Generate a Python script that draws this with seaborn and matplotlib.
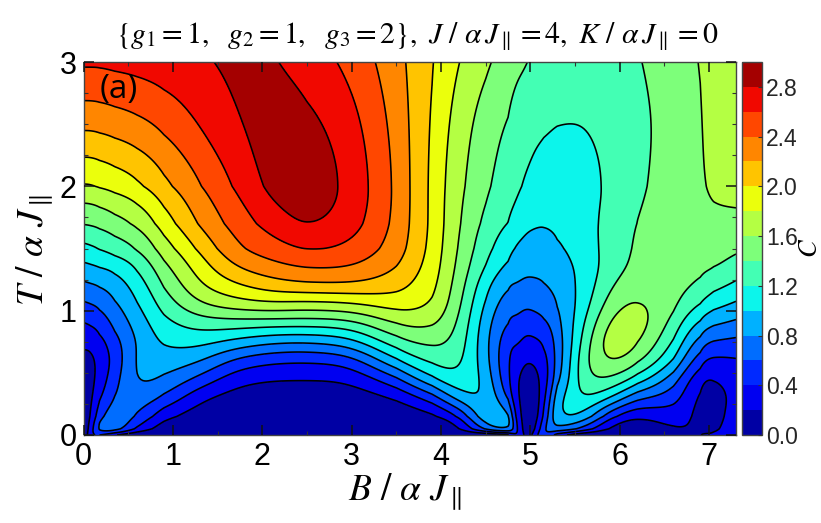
import numpy as np
import matplotlib
matplotlib.use("Agg")
import matplotlib.pyplot as plt
from matplotlib.ticker import MultipleLocator
import seaborn as sns

# magnetic field columns and temperature rows
field_B = [0, .08, .18, .35, .6, .9, 1.3, 1.7, 2.1, 2.5, 3.0, 3.5, 3.9, 4.2, 4.5, 4.75, 4.85,
           4.95, 5.05, 5.15, 5.3, 5.6, 5.9, 6.2, 6.6, 6.9, 7.05, 7.3]
temp_T = [0, .05, .15, .3, .45, .6, .75, .9, 1.05, 1.2, 1.35, 1.5, 1.7, 2.0, 2.5, 3.0]

# specific heat: one line per field column, values follow temp_T
heat_C = [
    [0, .01, .03, .06, .1, .15, .23, .39, .57, .75, .95, 1.14, 1.39, 1.76, 2.27, 2.63],
    [.38, .3, .18, .15, .12, .13, .25, .42, .59, .77, .97, 1.16, 1.4, 1.76, 2.27, 2.63],
    [.45, .75, .55, .36, .27, .25, .32, .47, .63, .8, 1.0, 1.2, 1.43, 1.79, 2.28, 2.63],
    [.22, .85, .78, .62, .52, .43, .5, .65, .76, .88, 1.03, 1.29, 1.5, 1.84, 2.31, 2.65],
    [0, .35, .62, .76, .87, .88, .82, .88, .97, 1.07, 1.19, 1.39, 1.6, 1.93, 2.36, 2.67],
    [0, .06, .21, .61, .8, .93, 1.05, 1.15, 1.28, 1.4, 1.54, 1.69, 1.87, 2.12, 2.45, 2.71],
    [0, .02, .07, .2, .55, .85, 1.08, 1.3, 1.6, 1.8, 1.9, 2.03, 2.25, 2.37, 2.63, 2.76],
    [0, .01, .04, .1, .25, .53, .95, 1.31, 1.72, 1.97, 2.21, 2.39, 2.47, 2.61, 2.8, 2.86],
    [0, 0, .02, .07, .2, .42, .83, 1.29, 1.78, 2.11, 2.34, 2.51, 2.68, 2.9, 2.92, 2.83],
    [0, 0, .02, .07, .2, .4, .8, 1.29, 1.72, 2.17, 2.43, 2.63, 2.86, 2.98, 2.88, 2.72],
    [0, 0, .02, .07, .2, .44, .9, 1.3, 1.77, 2.18, 2.42, 2.57, 2.72, 2.78, 2.7, 2.55],
    [0, 0, .03, .18, .53, 1.03, 1.37, 1.66, 1.92, 2.08, 2.22, 2.32, 2.35, 2.37, 2.33, 2.27],
    [0, .02, .1, .47, 1.03, 1.29, 1.48, 1.67, 1.82, 1.87, 1.91, 1.93, 1.95, 1.93, 1.96, 2.0],
    [0, .1, .3, .97, 1.2, 1.29, 1.35, 1.4, 1.46, 1.51, 1.55, 1.58, 1.61, 1.64, 1.7, 1.8],
    [0, .75, 1.1, 1.08, .98, .88, .84, .86, .93, 1.03, 1.17, 1.25, 1.33, 1.43, 1.48, 1.63],
    [.15, 1.0, .95, .5, .38, .36, .42, .55, .67, .78, .94, 1.06, 1.18, 1.3, 1.37, 1.5],
    [.5, .4, .28, .2, .2, .28, .44, .56, .67, .79, .88, .96, 1.12, 1.24, 1.3, 1.44],
    [.05, .05, .08, .1, .13, .19, .34, .48, .63, .75, .85, .94, 1.03, 1.18, 1.28, 1.41],
    [.25, .14, .08, .1, .14, .21, .36, .52, .65, .76, .85, .93, 1.01, 1.14, 1.24, 1.36],
    [.7, .62, .37, .26, .24, .3, .41, .56, .68, .78, .86, .93, 1.0, 1.12, 1.22, 1.34],
    [.3, .85, 1.1, .98, .68, .6, .62, .69, .76, .86, .93, .96, 1.03, 1.12, 1.19, 1.32],
    [0, .55, 1.02, 1.28, 1.42, 1.42, 1.3, 1.2, 1.1, 1.05, 1.03, 1.08, 1.12, 1.12, 1.19, 1.29],
    [0, .1, .35, 1.05, 1.42, 1.68, 1.8, 1.68, 1.52, 1.41, 1.33, 1.3, 1.28, 1.22, 1.25, 1.31],
    [0, .03, .14, .6, 1.15, 1.5, 1.68, 1.78, 1.68, 1.52, 1.45, 1.44, 1.42, 1.36, 1.34, 1.38],
    [.1, .21, .35, .52, .68, 1.02, 1.19, 1.32, 1.46, 1.49, 1.5, 1.47, 1.5, 1.5, 1.47, 1.5],
    [.22, .18, .1, .1, .18, .41, .66, .92, 1.17, 1.37, 1.43, 1.46, 1.53, 1.58, 1.6, 1.62],
    [.2, .15, .1, .1, .18, .34, .58, .83, 1.07, 1.26, 1.43, 1.5, 1.55, 1.65, 1.65, 1.66],
    [.3, .3, .3, .25, .28, .37, .55, .76, .97, 1.16, 1.31, 1.44, 1.55, 1.67, 1.72, 1.72],
]

contour_levels = [round(0.2 * i, 1) for i in range(16)]
colorbar_ticks = [0.0, 0.4, 0.8, 1.2, 1.6, 2.0, 2.4, 2.8]
title_text = (r"$\{g_1=1,\ \ g_2=1,\ \ g_3=2\},\ J\ /\ \alpha\,J_{\parallel}=4,"
              r"\ K\ /\ \alpha\,J_{\parallel}=0$")

sns.set_theme(style="ticks")
plt.rcParams["font.family"] = ["Liberation Sans", "DejaVu Sans"]
plt.rcParams["mathtext.fontset"] = "stix"
plt.rcParams["axes.axisbelow"] = False

W, H = 821, 523
fig = plt.figure(figsize=(W / 100, H / 100), dpi=100)


def box(x0, x1, y0, y1):
    return [x0 / W, 1 - y1 / H, (x1 - x0) / W, (y1 - y0) / H]


ax = fig.add_axes(box(83.5, 736, 62, 435))
cax = fig.add_axes(box(742, 762, 62, 435))

b_arr = np.asarray(field_B, float)
t_arr = np.asarray(temp_T, float)
c_arr = np.asarray(heat_C, float).T   # rows follow temp_T

# draw the read-off grid smoothly: subdivide each cell, then soften in cell units
SUB = 14
u_b = np.arange(0, (len(b_arr) - 1) * SUB + 1) / SUB
u_t = np.arange(0, (len(t_arr) - 1) * SUB + 1) / SUB
fine_b = np.interp(u_b, np.arange(len(b_arr)), b_arr)
fine_t = np.interp(u_t, np.arange(len(t_arr)), t_arr)
fine = np.array([np.interp(u_b, np.arange(len(b_arr)), row) for row in c_arr])
fine = np.array([np.interp(u_t, np.arange(len(t_arr)), col) for col in fine.T]).T


def soften(a, sigma, axis):
    r = int(4 * sigma)
    k = np.exp(-0.5 * (np.arange(-r, r + 1) / sigma) ** 2)
    k /= k.sum()

    def one(v):
        left = 2 * v[0] - v[1:r + 1][::-1]
        right = 2 * v[-1] - v[-r - 1:-1][::-1]
        return np.convolve(np.r_[left, v, right], k, mode="valid")

    return np.apply_along_axis(one, axis, a)


FC = soften(soften(fine, 0.42 * SUB, 1), 0.42 * SUB, 0)
FC = np.clip(FC, 0, 2.999)
FB, FT = np.meshgrid(fine_b, fine_t)

cf = ax.contourf(FB, FT, FC, levels=contour_levels, cmap="jet", vmin=0, vmax=3)
ax.contour(FB, FT, FC, levels=contour_levels[1:-1], colors="black", linewidths=1.15)

ax.set_xlim(0, 7.3)
ax.set_ylim(0, 3)
ax.xaxis.set_major_locator(MultipleLocator(1))
ax.xaxis.set_minor_locator(MultipleLocator(0.5))
ax.yaxis.set_major_locator(MultipleLocator(1))
ax.yaxis.set_minor_locator(MultipleLocator(0.25))
ax.tick_params(which="major", direction="in", top=True, right=True, length=7.5,
               width=1.1, color="#111111", labelsize=22, labelcolor="black")
ax.tick_params(which="minor", direction="in", top=True, right=True, length=3,
               width=0.8, color="#333333")
ax.tick_params(axis="x", which="major", pad=5)
ax.tick_params(axis="y", which="major", pad=5)
for s in ax.spines.values():
    s.set_color("#444444")
    s.set_linewidth(1.0)

cb = fig.colorbar(cf, cax=cax)
cb.set_ticks(colorbar_ticks)
cb.set_ticklabels([f"{v:.1f}" for v in colorbar_ticks])
cb.ax.tick_params(length=3, width=0.8, labelsize=16.5, pad=3, direction="in", color="#333333")
cb.outline.set_edgecolor("#444444")
cb.outline.set_linewidth(1.0)

ax.text(0.185, 2.78, "(a)", fontsize=24, family="Open Sans", ha="left", va="center", color="black")
fig.text(417 / W, 1 - 37 / H, title_text, fontsize=21.5, ha="center", va="center", color="black")
fig.text(405 / W, 1 - 492 / H, r"$B\ /\ \alpha\ J_{\parallel}$", fontsize=27, ha="center", va="center", color="black")
fig.text(35 / W, 1 - 250 / H, r"$T\ /\ \alpha\ J_{\parallel}$", fontsize=27, rotation=90, ha="center", va="center", color="black")
fig.text(810 / W, 1 - 248 / H, r"$C$", fontsize=19, rotation=90, ha="center", va="center", color="black")

fig.savefig("out.png", dpi=100, facecolor="white")
